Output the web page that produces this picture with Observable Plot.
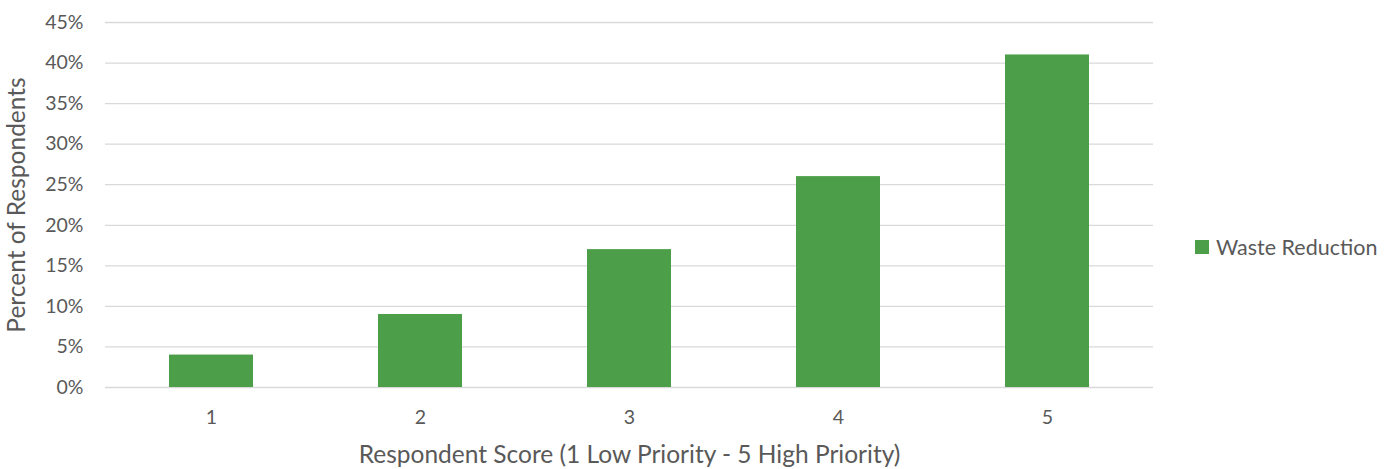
<!DOCTYPE html>
<html>
<head>
<meta charset="utf-8">
<script src="https://cdn.jsdelivr.net/npm/d3@7"></script>
<script src="https://cdn.jsdelivr.net/npm/@observablehq/plot@0.6"></script>
<style>
  html, body { margin: 0; padding: 0; background: #fff; }
  #wrap { position: relative; width: 1395px; height: 469px; font-family: Lato, "Open Sans", sans-serif; }
  #legend { position: absolute; left: 1195px; top: 234px; font-size: 21.5px; color: #595959; display: flex; align-items: center; white-space: nowrap; }
  #legend .sw { width: 14px; height: 14px; background: #4C9F48; margin-right: 7px; }
</style>
</head>
<body>
<div id="wrap"><div id="legend"><span class="sw"></span><span id="legtext"></span></div></div>
<script>
const scores = ["1", "2", "3", "4", "5"];
const percents = [4, 9, 17, 26, 41];
const yTicks = [0, 5, 10, 15, 20, 25, 30, 35, 40, 45];
const seriesName = "Waste Reduction";
const xTitle = "Respondent Score (1 Low Priority - 5 High Priority)";
const yTitle = "Percent of Respondents";

const data = scores.map((s, i) => ({score: s, pct: percents[i]}));
const barColor = "#4C9F48";
const textColor = "#595959";

const chart = Plot.plot({
  width: 1395,
  height: 469,
  marginLeft: 105,
  marginRight: 242,
  marginTop: 22,
  marginBottom: 82,
  style: {fontFamily: "Lato, 'Open Sans', sans-serif", fontSize: "19px", color: textColor, background: "#fff"},
  x: {domain: scores, paddingInner: 0.6, paddingOuter: 0.3, label: null},
  y: {domain: [0, 45], label: null},
  marks: [
    Plot.ruleY(yTicks, {stroke: "#d9d9d9", strokeWidth: 1.3}),
    Plot.barY(data, {x: "score", y: "pct", fill: barColor}),
    Plot.axisY({ticks: yTicks, tickSize: 0, tickPadding: 22, tickFormat: d => d + "%", fill: textColor, fontSize: 19.5}),
    Plot.axisX({tickSize: 0, tickPadding: 23, fill: textColor, fontSize: 19.5}),
    Plot.text([xTitle], {frameAnchor: "bottom", dy: 68, fill: textColor, fontSize: 24.5, lineAnchor: "middle"}),
    Plot.text([yTitle], {frameAnchor: "left", dx: -88, rotate: -90, textAnchor: "middle", fill: textColor, fontSize: 24.5})
  ]
});
const wrap = document.getElementById("wrap");
wrap.insertBefore(chart, wrap.firstChild);
document.getElementById("legtext").textContent = seriesName;
</script>
</body>
</html>
